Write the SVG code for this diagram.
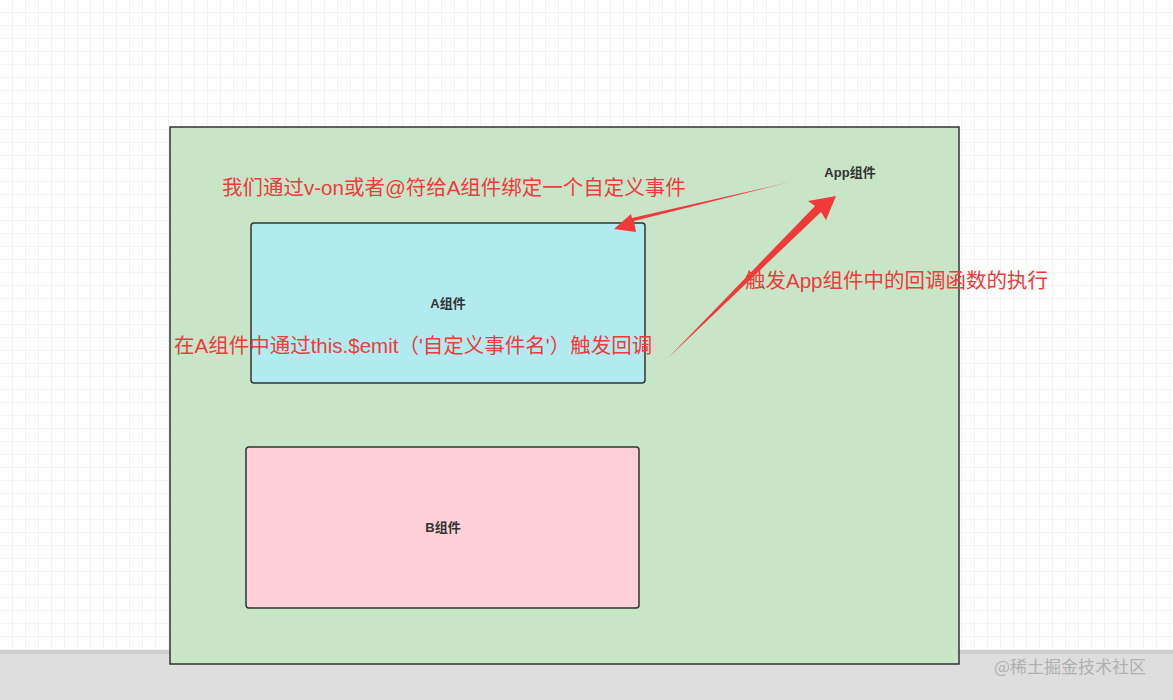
<svg xmlns="http://www.w3.org/2000/svg" width="1173" height="700" viewBox="0 0 1173 700">
<defs>
<pattern id="g" width="13" height="13" patternUnits="userSpaceOnUse"><path d="M13 0V13H0" fill="none" stroke="#e8e8e8" stroke-width="1"/></pattern>
<style>
.box{stroke:#333;stroke-width:1.5}
.lbl{font-family:"Liberation Sans","Noto Sans CJK SC",sans-serif;font-size:13px;font-weight:bold;fill:#333;text-anchor:middle}
.red{font-family:"Liberation Sans","Noto Sans CJK SC",sans-serif;font-size:20.5px;fill:#ee3b3b}
.arr{fill:#f03a3a}
</style>
</defs>
<rect width="1173" height="700" fill="#fff"/>
<rect width="1173" height="650" fill="url(#g)"/>
<rect y="650" width="1173" height="50" fill="#dedede"/>
<rect y="650" width="1173" height="4" fill="#cfcfcf"/>
<g id="app"><rect class="box" x="170" y="127" width="789" height="537" fill="#c9e5c8"/><text class="lbl" x="850" y="177">App组件</text></g>
<g id="a"><rect class="box" x="251" y="223" width="394" height="160" rx="3" fill="#b2ebef"/><text class="lbl" x="448" y="308">A组件</text></g>
<g id="b"><rect class="box" x="246" y="447" width="393" height="161" rx="3" fill="#ffd0d7"/><text class="lbl" x="443" y="532">B组件</text></g>
<g id="texts">
<text class="red" x="222" y="195">我们通过v-on或者@符给A组件绑定一个自定义事件</text>
<text class="red" x="745" y="288">触发App组件中的回调函数的执行</text>
<text class="red" x="174" y="353">在A组件中通过this.$emit（'自定义事件名'）触发回调</text>
</g>
<g id="connectors">
<polygon class="arr" points="790,182 634,221 636,232 614,229 631,214 632,218"/>
<polygon class="arr" points="668,358 815,206 808,201 836,196 826,220 821,212"/>
</g>
<text x="1070" y="673" font-family="Noto Sans CJK SC,sans-serif" font-size="17" fill="#b0b0b0" text-anchor="middle">@稀土掘金技术社区</text>
</svg>
